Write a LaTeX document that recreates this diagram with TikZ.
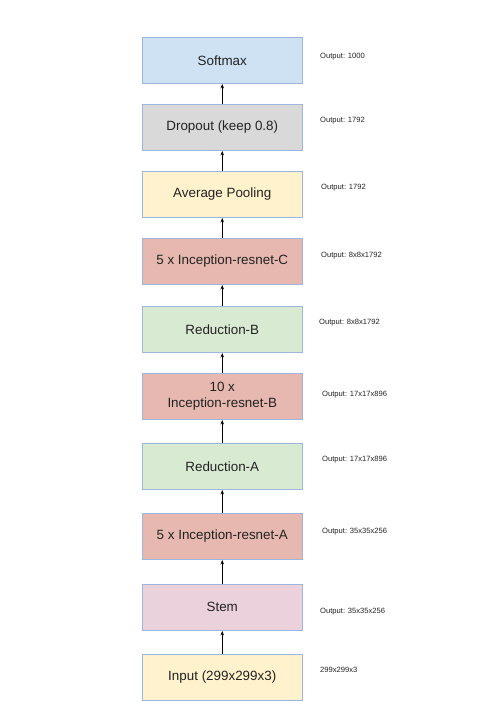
\documentclass[tikz,border=0pt]{standalone}
\usepackage{fontspec}
\setmainfont{Liberation Sans}
\usetikzlibrary{arrows.meta}
\definecolor{bordc}{HTML}{9DB6E0}
\definecolor{cblue}{HTML}{CFE2F3}
\definecolor{cgray}{HTML}{D9D9D9}
\definecolor{cyel}{HTML}{FFF2CC}
\definecolor{cred}{HTML}{E6B8AF}
\definecolor{cgreen}{HTML}{D9EAD3}
\definecolor{cpink}{HTML}{EAD1DC}
\definecolor{txt}{HTML}{222222}
\begin{document}
\begin{tikzpicture}[x=1pt,y=-1pt,
  blk/.style={draw=bordc, line width=0.9pt, minimum width=159.5pt, minimum height=46.5pt,
    inner sep=0pt, align=center, text=txt, font=\fontsize{13.4}{15.5}\selectfont},
  outlbl/.style={anchor=west, inner sep=0pt, text=txt, font=\fontsize{7.6}{9}\selectfont},
  conn/.style={-{Stealth[length=4.5pt,width=3.5pt]}, line width=0.8pt, black}]
\useasboundingbox (0,0) rectangle (491,711);
\node[blk, fill=cblue]  (soft) at (222.25,60.25)  {Softmax};
\node[blk, fill=cgray]  (drop) at (222.25,127.25) {Dropout (keep 0.8)};
\node[blk, fill=cyel]   (avg)  at (222.25,194.25) {Average Pooling};
\node[blk, fill=cred]   (incc) at (222.25,261.25) {5 x Inception-resnet-C};
\node[blk, fill=cgreen] (redb) at (222.25,329.25) {Reduction-B};
\node[blk, fill=cred]   (incb) at (222.25,396.25) {10 x\\Inception-resnet-B};
\node[blk, fill=cgreen] (reda) at (222.25,466.25) {Reduction-A};
\node[blk, fill=cred]   (inca) at (222.25,536.25) {5 x Inception-resnet-A};
\node[blk, fill=cpink]  (stem) at (222.25,607.25) {Stem};
\node[blk, fill=cyel]   (inp)  at (222.25,677.25) {Input (299x299x3)};
\draw[conn] (drop) -- (soft);
\draw[conn] (avg) -- (drop);
\draw[conn] (incc) -- (avg);
\draw[conn] (redb) -- (incc);
\draw[conn] (incb) -- (redb);
\draw[conn] (reda) -- (incb);
\draw[conn] (inca) -- (reda);
\draw[conn] (stem) -- (inca);
\draw[conn] (inp) -- (stem);
\node[outlbl] (l1) at (320,57) {Output: 1000};
\node[outlbl] (l2) at (320,121) {Output: 1792};
\node[outlbl] (l3) at (321,188) {Output: 1792};
\node[outlbl] (l4) at (321,256) {Output: 8x8x1792};
\node[outlbl] (l5) at (319,323) {Output: 8x8x1792};
\node[outlbl] (l6) at (322,395) {Output: 17x17x896};
\node[outlbl] (l7) at (322,460) {Output: 17x17x896};
\node[outlbl] (l8) at (322,532) {Output: 35x35x256};
\node[outlbl] (l9) at (320,612) {Output: 35x35x256};
\node[outlbl] (l10) at (320,670) {299x299x3};
\end{tikzpicture}
\end{document}
